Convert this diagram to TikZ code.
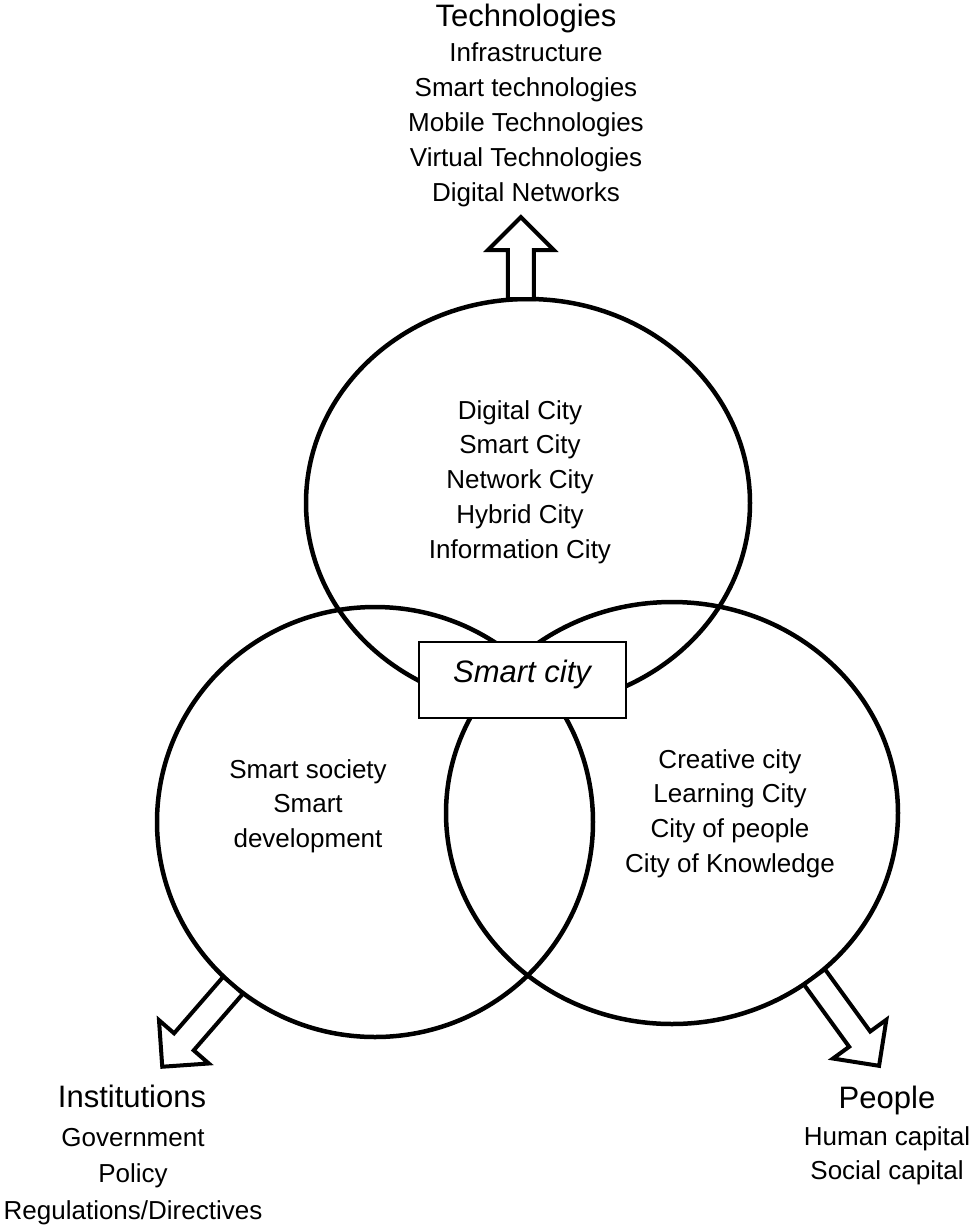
\documentclass[tikz,border=0pt]{standalone}
\usepackage{fontspec}
\setmainfont{Liberation Sans}
\usetikzlibrary{shapes.geometric,shapes.arrows,positioning}
\tikzset{
  ring/.style={draw, ellipse, line width=4.5pt, inner sep=0pt, outer sep=0pt},
  blockarrow/.style={draw, fill=white, single arrow, line width=4pt, inner sep=0pt, inner ysep=11pt,
    minimum height=#1, single arrow head extend=20pt, single arrow tip angle=90, outer sep=0pt},
  hub/.style={draw, fill=white, line width=1.5pt, minimum width=207pt, minimum height=76pt, inner sep=0pt},
  item/.style={anchor=base, inner sep=0pt, font=\fontsize{26}{30}\selectfont},
  head/.style={anchor=base, inner sep=0pt, font=\fontsize{31}{36}\selectfont},
}
\begin{document}
\begin{tikzpicture}[x=1pt,y=-1pt]
% ==========================================
\useasboundingbox (0,0) rectangle (974,1227);
\node[ring, minimum width=444pt, minimum height=408pt] (tc) at (528,503) {};
\node[ring, minimum width=436pt, minimum height=430pt] (lc) at (375,822) {};
\node[ring, minimum width=452pt, minimum height=422pt] (rc) at (672,813) {};
%
\node[blockarrow=82pt, rotate=90, anchor=tail] (techarrow) at (tc.92) {};%Arrow.
\node[blockarrow=108pt, rotate=229, anchor=tail] (instarrow) at (lc.229) {};%Arrow.
\node[blockarrow=110pt, rotate=-54, anchor=tail] (peoplearrow) at (rc.-49) {};%Arrow.
%
\node[hub] (core) at (522.5,680) {};
\node[head, font=\fontsize{31}{36}\selectfont\itshape] (corelabel) at (522,682) {Smart city};
% ==========================================
\node[head] (tech) at (526,26) {Technologies};
\foreach \txt [count=\i] in {Infrastructure, Smart technologies, Mobile Technologies, Virtual Technologies, Digital Networks}
  \node[item] (tech\i) at (526,{61+35.2*(\i-1)}) {\txt};
\foreach \txt [count=\i] in {Digital City, Smart City, Network City, Hybrid City, Information City}
  \node[item] (digi\i) at (520,{419+34.75*(\i-1)}) {\txt};
\foreach \txt [count=\i] in {Smart society, Smart, development}
  \node[item] (soc\i) at (308,{778+34.5*(\i-1)}) {\txt};
\foreach \txt [count=\i] in {Creative city, Learning City, City of people, City of Knowledge}
  \node[item] (crea\i) at (730,{768+34.7*(\i-1)}) {\txt};
%
\node[head] (inst) at (132,1107) {Institutions};
\foreach \txt [count=\i] in {Government, Policy, Regulations/Directives}
  \node[item] (inst\i) at (133,{1146+36.5*(\i-1)}) {\txt};
\node[head] (people) at (887,1108) {People};
\foreach \txt [count=\i] in {Human capital, Social capital}
  \node[item] (people\i) at (887,{1145+34*(\i-1)}) {\txt};
% =============================================
\end{tikzpicture}
\end{document}
